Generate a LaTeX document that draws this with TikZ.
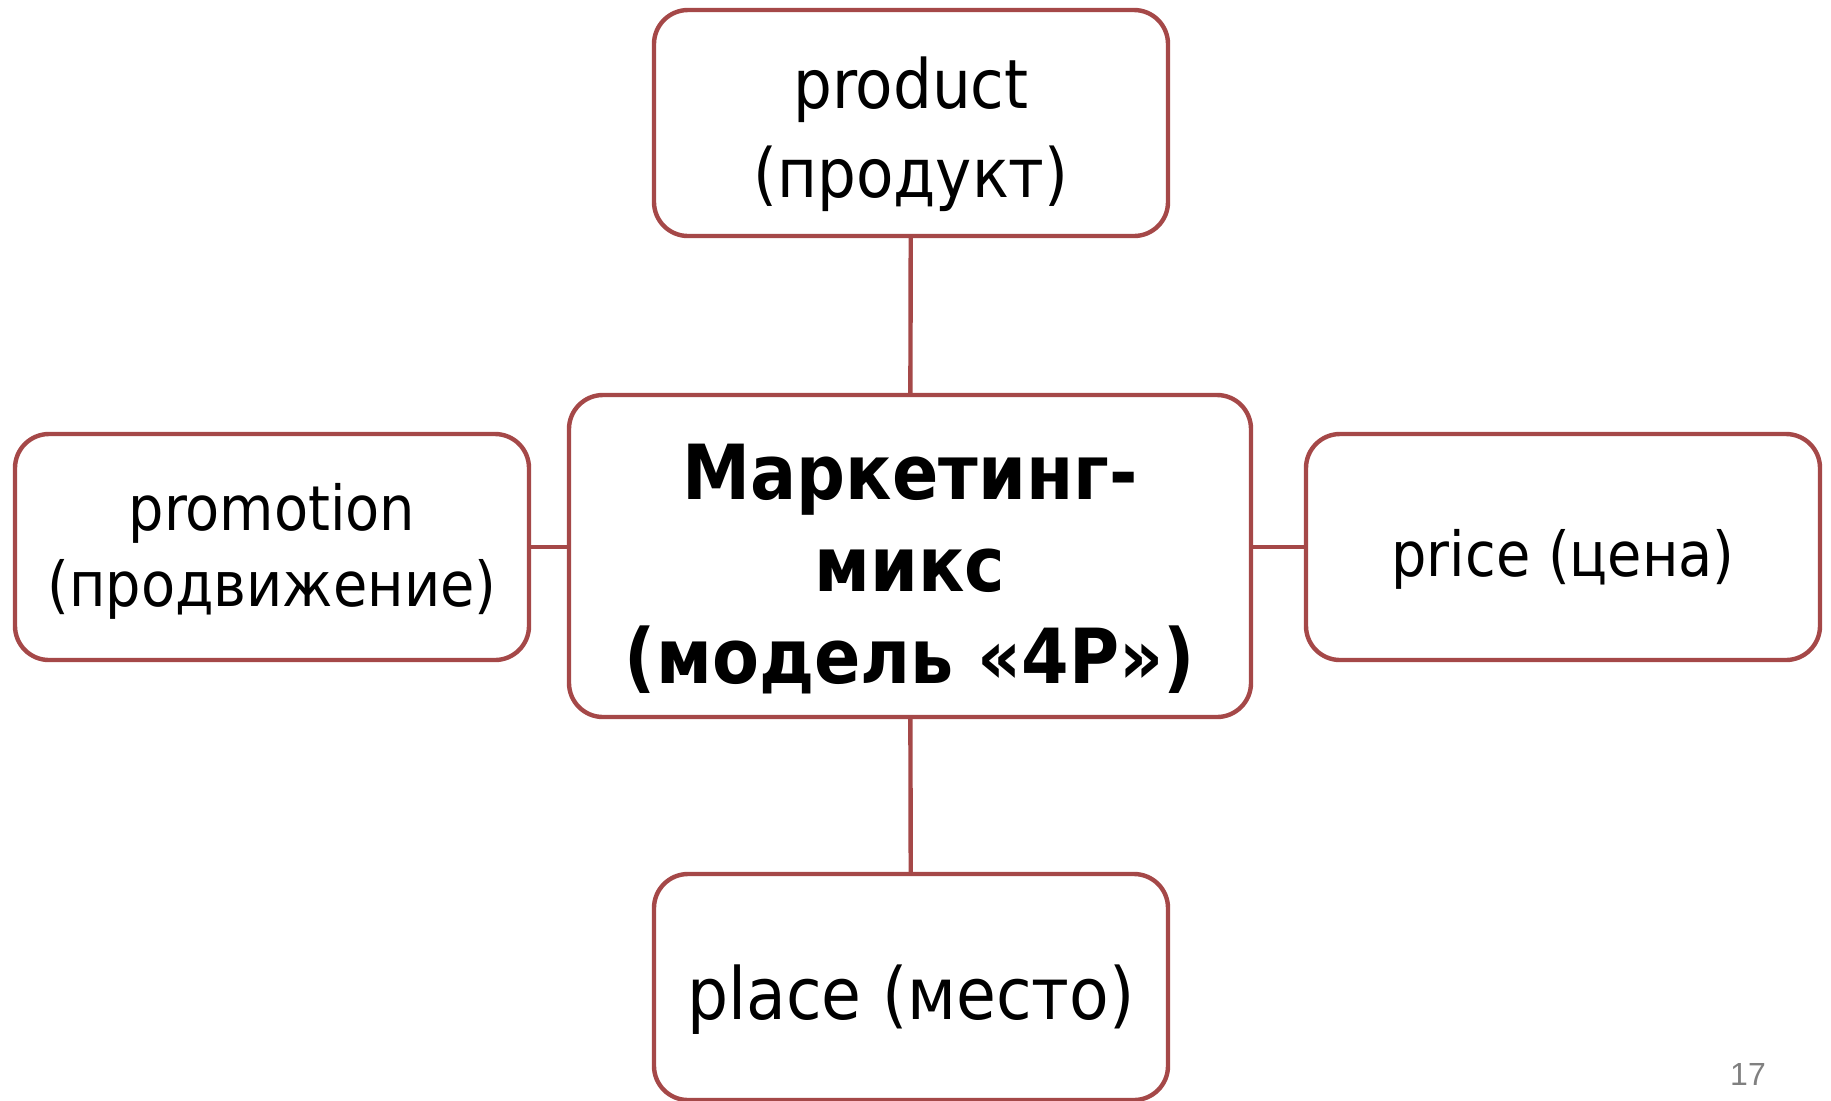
\documentclass[tikz,border=0pt]{standalone}
\usepackage{fontspec}
\setmainfont{DejaVu Sans Condensed}
\newfontfamily\pagenofont{Liberation Sans}
\definecolor{boxred}{RGB}{165,72,72}
\tikzset{
	lift/.style={execute at begin node=\rule{0pt}{#1}},
	pbox/.style={draw=boxred,line width=2.2pt,rounded corners=17pt,fill=white,align=center,
		minimum width=257pt,minimum height=113pt,inner sep=0pt,
		font=\fontsize{32}{45}\selectfont,lift=36pt},
	mixbox/.style={pbox,minimum width=341pt,minimum height=161pt,
		font=\fontsize{38}{46}\selectfont\bfseries,lift=133pt},
	link/.style={draw=boxred,line width=2.2pt}
}
\begin{document}
\begin{tikzpicture}[x=0.5pt,y=-0.5pt,line join=round]
			\useasboundingbox (0,0) rectangle (1831,1100);
			\node[mixbox](mix) at (910,556) {Маркетинг-\\микс\\(модель «4P»)};
			\node[pbox,lift=82pt,font=\fontsize{34}{44.5}\selectfont](product) at (911,123) {product\\(продукт)};
			\node[pbox,lift=66pt,font=\fontsize{31}{38}\selectfont](promo) at (272,547) {promotion\\(продвижение)};
			\node[pbox,font=\fontsize{31}{38}\selectfont](price) at (1563,547) {price (цена)};
			\node[pbox,lift=40pt,font=\fontsize{36}{44}\selectfont](place) at (911,987) {place (место)};
			\draw[link] (product)--(mix);
			\draw[link] (mix)--(place);
			\draw[link] (promo.east)--(promo.east-|mix.west);
			\draw[link] (price.west)--(price.west-|mix.east);
			\node[text=gray,font=\pagenofont\fontsize{16}{18}\selectfont](pageno) at (1748,1074) {17};
			\end{tikzpicture}
\end{document}
